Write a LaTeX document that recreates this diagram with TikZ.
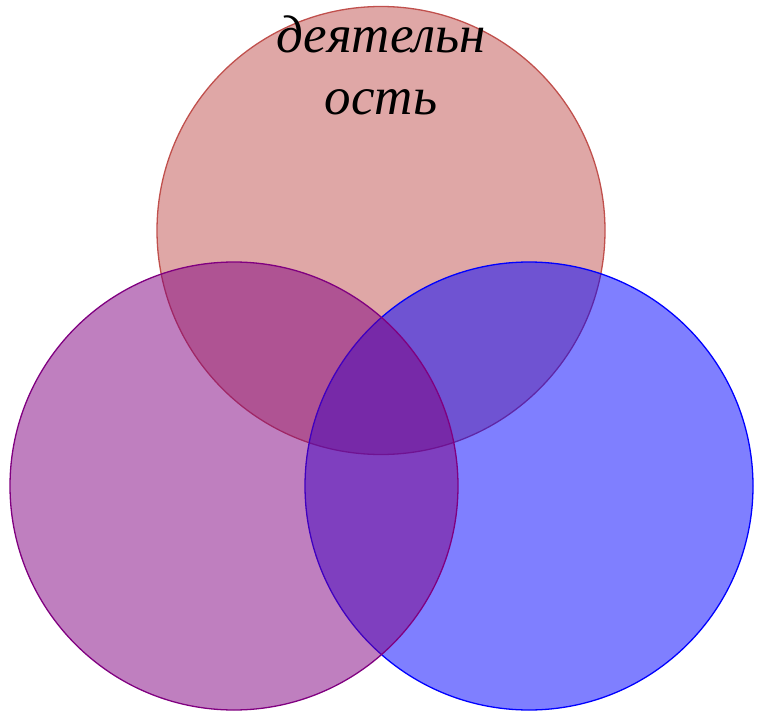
\documentclass[tikz,border=0pt]{standalone}
\usepackage{fontspec}
\setmainfont{Liberation Serif}
\usepackage{xcolor}
\usepackage{tikz}
\definecolor{ringred}{HTML}{C0504D}
\definecolor{ringviolet}{RGB}{128,0,128}

\begin{document}
\begin{tikzpicture}[x=1pt, y=-1pt,
  ring/.style={circle, inner sep=0pt, minimum size=448pt, line width=1.3pt,
               fill opacity=0.5, draw opacity=1},
  lbl/.style={align=center, font=\fontsize{53}{62}\selectfont\itshape}]
  \useasboundingbox (0,0) rectangle (760,714);
  \node[ring, draw=ringred, fill=ringred] (top) at (381,230.5) {};
  \node[ring, draw=blue, fill=blue] (right) at (529,486) {};
  \node[ring, draw=ringviolet, fill=ringviolet] (left) at (234,486) {};
  \node[lbl, anchor=base] (name) at (381,115) {деятельн\\ость};
\end{tikzpicture}
\end{document}
